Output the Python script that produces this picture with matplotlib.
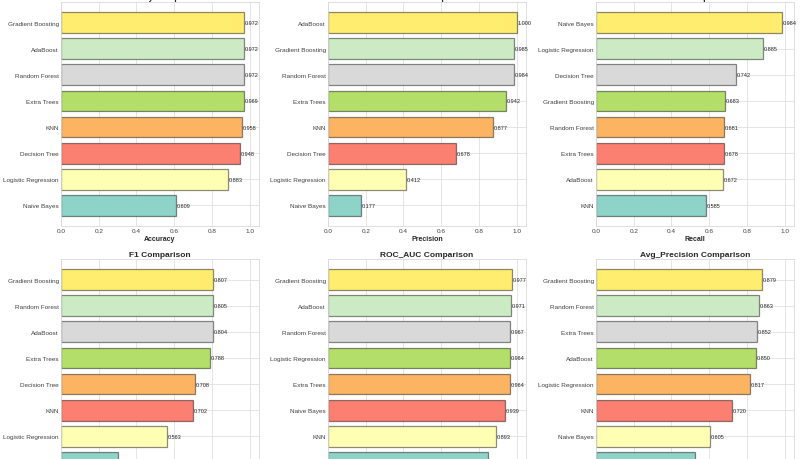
import numpy as np
import matplotlib
matplotlib.use("Agg")
import matplotlib.pyplot as plt
import seaborn as sns

sns.set_style("whitegrid")
plt.rcParams['font.family'] = ['Liberation Sans', 'DejaVu Sans']

metrics = ["Accuracy", "Precision", "Recall", "F1", "ROC_AUC", "Avg_Precision"]

# display order: top to bottom
acc_models = ["Gradient Boosting", "AdaBoost", "Random Forest", "Extra Trees", "KNN",
              "Decision Tree", "Logistic Regression", "Naive Bayes"]
acc_values = [0.972, 0.972, 0.972, 0.969, 0.958, 0.948, 0.883, 0.609]

prec_models = ["AdaBoost", "Gradient Boosting", "Random Forest", "Extra Trees", "KNN",
               "Decision Tree", "Logistic Regression", "Naive Bayes"]
prec_values = [1.000, 0.985, 0.984, 0.942, 0.877, 0.678, 0.412, 0.177]

rec_models = ["Naive Bayes", "Logistic Regression", "Decision Tree", "Gradient Boosting",
              "Random Forest", "Extra Trees", "AdaBoost", "KNN"]
rec_values = [0.984, 0.885, 0.742, 0.683, 0.681, 0.678, 0.672, 0.585]

f1_models = ["Gradient Boosting", "Random Forest", "AdaBoost", "Extra Trees", "Decision Tree",
             "KNN", "Logistic Regression", "Naive Bayes"]
f1_values = [0.807, 0.805, 0.804, 0.788, 0.708, 0.702, 0.563, 0.300]

roc_models = ["Gradient Boosting", "AdaBoost", "Random Forest", "Logistic Regression",
              "Extra Trees", "Naive Bayes", "KNN", "Decision Tree"]
roc_values = [0.977, 0.971, 0.967, 0.964, 0.964, 0.939, 0.893, 0.850]

ap_models = ["Gradient Boosting", "Random Forest", "Extra Trees", "AdaBoost",
             "Logistic Regression", "KNN", "Naive Bayes", "Decision Tree"]
ap_values = [0.879, 0.863, 0.852, 0.850, 0.817, 0.720, 0.605, 0.525]

panels = [
    (acc_models, acc_values),
    (prec_models, prec_values),
    (rec_models, rec_values),
    (f1_models, f1_values),
    (roc_models, roc_values),
    (ap_models, ap_values),
]

colors = plt.cm.Set3(np.linspace(0, 1, 8))

fig = plt.figure(figsize=(8, 4.6), dpi=100)

lefts = [61 / 800, 328 / 800, 596 / 800]
width = 198 / 800
height = 224 / 460
bottoms = [1 - 227 / 460, 1 - 484 / 460]

for k, (metric, (models, values)) in enumerate(zip(metrics, panels)):
    r, c = divmod(k, 3)
    ax = fig.add_axes([lefts[c], bottoms[r], width, height])
    labels = models[::-1]
    vals = values[::-1]
    y = np.arange(len(vals))
    ax.barh(y, vals, height=0.8, color=colors, edgecolor=(0, 0, 0, 0.45),
            linewidth=0.9)
    for yi, v in zip(y, vals):
        ax.text(v + 0.004, yi, f"{v:.3f}", va='center', ha='left', fontsize=4,
                color='#222222')
    ax.set_yticks(y)
    ax.set_yticklabels(labels, fontsize=4.6)
    ax.set_xlim(0, 1.05)
    ax.set_xticks([0.0, 0.2, 0.4, 0.6, 0.8, 1.0])
    ax.set_xticklabels(["0.0", "0.2", "0.4", "0.6", "0.8", "1.0"], fontsize=4.6)
    ax.tick_params(axis='both', length=0, pad=1.5, colors='.25')
    ax.set_xlabel(metric, fontsize=5, fontweight='bold', labelpad=1.5)
    ax.set_title(f"{metric} Comparison", fontsize=6, fontweight='bold', pad=2.5)
    ax.grid(True, color='.88', linewidth=0.6)
    ax.set_axisbelow(True)
    for s in ax.spines.values():
        s.set_color('.85')
        s.set_linewidth(0.6)

fig.savefig("out.png", dpi=100)
